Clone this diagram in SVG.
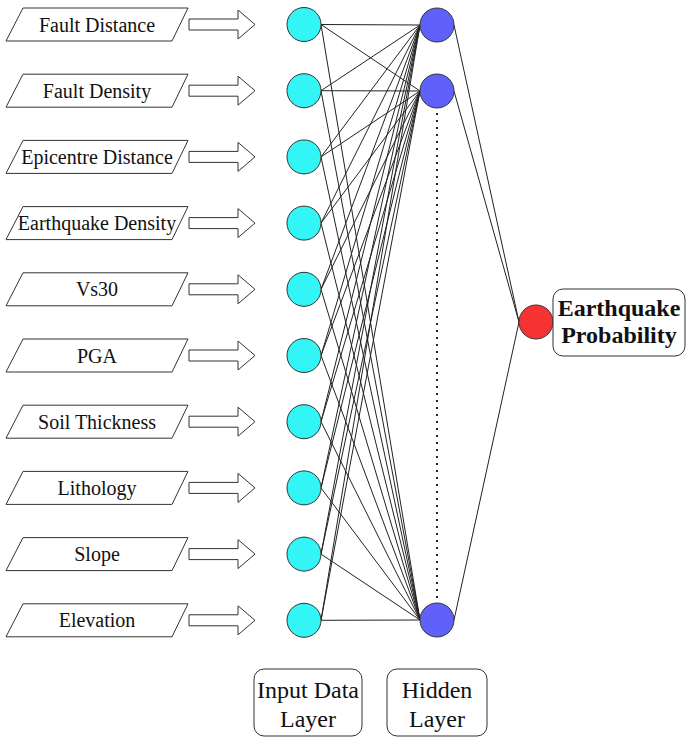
<svg xmlns="http://www.w3.org/2000/svg" width="686" height="738" viewBox="0 0 686 738">
<style>
.para{fill:#fff;stroke:#333;stroke-width:1}
.arr{fill:#fff;stroke:#333;stroke-width:1}
text{font-family:'Liberation Serif',Tinos,'Times New Roman','DejaVu Serif',serif;fill:#111;text-anchor:middle}
.lbl{font-size:20px}
.big{font-size:24px}
.bold{font-weight:bold}
.in{fill:#33f5f5;stroke:#333;stroke-width:1}
.hid{fill:#6060fa;stroke:#333;stroke-width:1}
.out{fill:#f53333;stroke:#333;stroke-width:1}
.box{fill:#fff;stroke:#333;stroke-width:1}
.conn line{stroke:#222;stroke-width:1}
.conn line.dots{stroke:#222;stroke-width:2;stroke-dasharray:2 5}
</style>
<defs>
<path id="pg" class="para" d="M23,-16.5 H188 L172,16.5 H6 Z"/>
<path id="ar" class="arr" d="M189,-5.5 H238 V-14.5 L255,0 L238,14.5 V5.5 H189 Z"/>
</defs>
<g id="connectors" class="conn">
<line x1="321" y1="24.5" x2="420" y2="25"/><line x1="321" y1="24.5" x2="420" y2="91"/><line x1="321" y1="24.5" x2="420" y2="620"/>
<line x1="321" y1="90.7" x2="420" y2="25"/><line x1="321" y1="90.7" x2="420" y2="91"/><line x1="321" y1="90.7" x2="420" y2="620"/>
<line x1="321" y1="156.9" x2="420" y2="25"/><line x1="321" y1="156.9" x2="420" y2="91"/><line x1="321" y1="156.9" x2="420" y2="620"/>
<line x1="321" y1="223.1" x2="420" y2="25"/><line x1="321" y1="223.1" x2="420" y2="91"/><line x1="321" y1="223.1" x2="420" y2="620"/>
<line x1="321" y1="289.3" x2="420" y2="25"/><line x1="321" y1="289.3" x2="420" y2="91"/><line x1="321" y1="289.3" x2="420" y2="620"/>
<line x1="321" y1="355.5" x2="420" y2="25"/><line x1="321" y1="355.5" x2="420" y2="91"/><line x1="321" y1="355.5" x2="420" y2="620"/>
<line x1="321" y1="421.7" x2="420" y2="25"/><line x1="321" y1="421.7" x2="420" y2="91"/><line x1="321" y1="421.7" x2="420" y2="620"/>
<line x1="321" y1="487.9" x2="420" y2="25"/><line x1="321" y1="487.9" x2="420" y2="91"/><line x1="321" y1="487.9" x2="420" y2="620"/>
<line x1="321" y1="554.1" x2="420" y2="25"/><line x1="321" y1="554.1" x2="420" y2="91"/><line x1="321" y1="554.1" x2="420" y2="620"/>
<line x1="321" y1="620.3" x2="420" y2="25"/><line x1="321" y1="620.3" x2="420" y2="91"/><line x1="321" y1="620.3" x2="420" y2="620"/>
<line x1="454" y1="25" x2="519" y2="322"/><line x1="454" y1="91" x2="519" y2="322"/><line x1="454" y1="620" x2="519" y2="322"/>
<line class="dots" x1="437" y1="113" x2="437" y2="598"/>
</g>
<g id="in1" transform="translate(0,24.5)"><use href="#pg"/><text class="lbl" x="97" y="7">Fault Distance</text><use href="#ar"/><circle class="in" cx="304" cy="0" r="17"/></g>
<g id="in2" transform="translate(0,90.7)"><use href="#pg"/><text class="lbl" x="97" y="7">Fault Density</text><use href="#ar"/><circle class="in" cx="304" cy="0" r="17"/></g>
<g id="in3" transform="translate(0,156.9)"><use href="#pg"/><text class="lbl" x="97" y="7">Epicentre Distance</text><use href="#ar"/><circle class="in" cx="304" cy="0" r="17"/></g>
<g id="in4" transform="translate(0,223.1)"><use href="#pg"/><text class="lbl" x="97" y="7">Earthquake Density</text><use href="#ar"/><circle class="in" cx="304" cy="0" r="17"/></g>
<g id="in5" transform="translate(0,289.3)"><use href="#pg"/><text class="lbl" x="97" y="7">Vs30</text><use href="#ar"/><circle class="in" cx="304" cy="0" r="17"/></g>
<g id="in6" transform="translate(0,355.5)"><use href="#pg"/><text class="lbl" x="97" y="7">PGA</text><use href="#ar"/><circle class="in" cx="304" cy="0" r="17"/></g>
<g id="in7" transform="translate(0,421.7)"><use href="#pg"/><text class="lbl" x="97" y="7">Soil Thickness</text><use href="#ar"/><circle class="in" cx="304" cy="0" r="17"/></g>
<g id="in8" transform="translate(0,487.9)"><use href="#pg"/><text class="lbl" x="97" y="7">Lithology</text><use href="#ar"/><circle class="in" cx="304" cy="0" r="17"/></g>
<g id="in9" transform="translate(0,554.1)"><use href="#pg"/><text class="lbl" x="97" y="7">Slope</text><use href="#ar"/><circle class="in" cx="304" cy="0" r="17"/></g>
<g id="in10" transform="translate(0,620.3)"><use href="#pg"/><text class="lbl" x="97" y="7">Elevation</text><use href="#ar"/><circle class="in" cx="304" cy="0" r="17"/></g>
<g id="h1"><circle class="hid" cx="437" cy="25" r="17"/></g>
<g id="h2"><circle class="hid" cx="437" cy="91" r="17"/></g>
<g id="h3"><circle class="hid" cx="437" cy="620" r="17"/></g>
<g id="output"><circle class="out" cx="536" cy="322" r="17"/><rect class="box" x="553" y="289" width="132" height="67" rx="10"/><text class="big bold" x="619" y="316">Earthquake</text><text class="big bold" x="619" y="343">Probability</text></g>
<g id="inputLayer"><rect class="box" x="254" y="669" width="108" height="67" rx="10"/><text class="big" x="308" y="698">Input Data</text><text class="big" x="308" y="727">Layer</text></g>
<g id="hiddenLayer"><rect class="box" x="387" y="669" width="100" height="67" rx="10"/><text class="big" x="437" y="698">Hidden</text><text class="big" x="437" y="727">Layer</text></g>
</svg>
